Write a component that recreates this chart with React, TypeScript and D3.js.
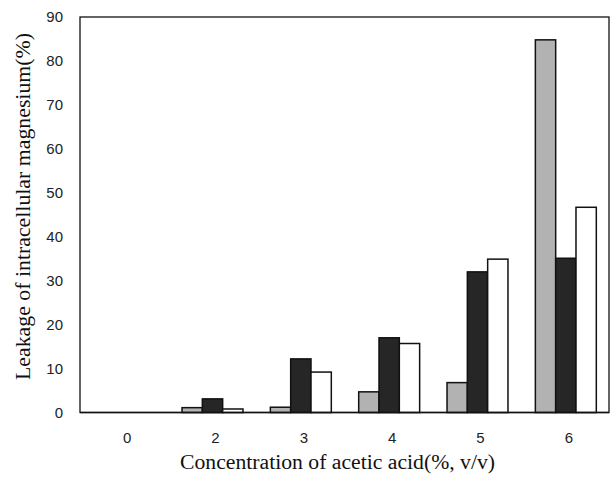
import React from "react";
import * as d3 from "d3";

// Acetic acid concentration (%, v/v) on the x axis
const categories = ["0", "2", "3", "4", "5", "6"];
// Three measured series, leakage of intracellular magnesium (%)
const seriesGray = [0, 1.1, 1.2, 4.7, 6.8, 84.8];
const seriesDark = [0, 3.1, 12.2, 17.0, 32.0, 35.1];
const seriesWhite = [0, 0.8, 9.2, 15.7, 34.9, 46.7];
const yTicks = [0, 10, 20, 30, 40, 50, 60, 70, 80, 90];

const series = [
  { key: "gray", values: seriesGray, fill: "#b2b2b2" },
  { key: "dark", values: seriesDark, fill: "#262626" },
  { key: "white", values: seriesWhite, fill: "#ffffff" },
];

const W = 611;
const H = 480;
const left = 80;
const right = 610;
const top = 17;
const bottom = 412.5;

export default function App() {
  const x = d3
    .scaleBand<string>()
    .domain(categories)
    .range([left, right])
    .paddingInner(0.31)
    .paddingOuter(0.155);
  const xi = d3
    .scaleBand<string>()
    .domain(series.map((s) => s.key))
    .range([0, x.bandwidth()]);
  const y = d3.scaleLinear().domain([0, 90]).range([bottom, top]);

  return (
    <svg
      width={W}
      height={H}
      style={{ position: "absolute", left: 0, top: 0, background: "#fff" }}
    >
      {/* plot frame */}
      <rect
        x={left}
        y={top}
        width={609 - left}
        height={bottom - top}
        fill="none"
        stroke="#111"
        strokeWidth={1.3}
      />
      {categories.map((c, i) =>
        series.map((s) => {
          const v = s.values[i];
          if (v <= 0) return null;
          return (
            <rect
              key={c + s.key}
              x={(x(c) ?? 0) + (xi(s.key) ?? 0)}
              y={y(v)}
              width={xi.bandwidth()}
              height={y(0) - y(v)}
              fill={s.fill}
              stroke="#111"
              strokeWidth={1.5}
            />
          );
        })
      )}
      {/* baseline */}
      <line x1={left} x2={609} y1={bottom} y2={bottom} stroke="#111" strokeWidth={1.6} />
      {/* y tick labels */}
      {yTicks.map((t) => (
        <text
          key={t}
          x={63}
          y={y(t)}
          dy="0.36em"
          textAnchor="end"
          fontFamily="Liberation Sans, Arial, sans-serif"
          fontSize={15}
          fill="#222"
        >
          {t}
        </text>
      ))}
      {/* x tick labels */}
      {categories.map((c) => (
        <text
          key={c}
          x={(x(c) ?? 0) + x.bandwidth() / 2 + 3}
          y={443}
          textAnchor="middle"
          fontFamily="Liberation Sans, Arial, sans-serif"
          fontSize={15}
          fill="#222"
        >
          {c}
        </text>
      ))}
      <text
        x={180}
        y={469}
        textLength={315}
        lengthAdjust="spacingAndGlyphs"
        fontFamily="Liberation Serif, Times New Roman, serif"
        fontSize={20}
        fill="#111"
      >
        Concentration of acetic acid(%, v/v)
      </text>
      <text
        transform="translate(30,380) rotate(-90)"
        textLength={347}
        lengthAdjust="spacingAndGlyphs"
        fontFamily="Liberation Serif, Times New Roman, serif"
        fontSize={20}
        fill="#111"
      >
        Leakage of intracellular magnesium(%)
      </text>
    </svg>
  );
}
